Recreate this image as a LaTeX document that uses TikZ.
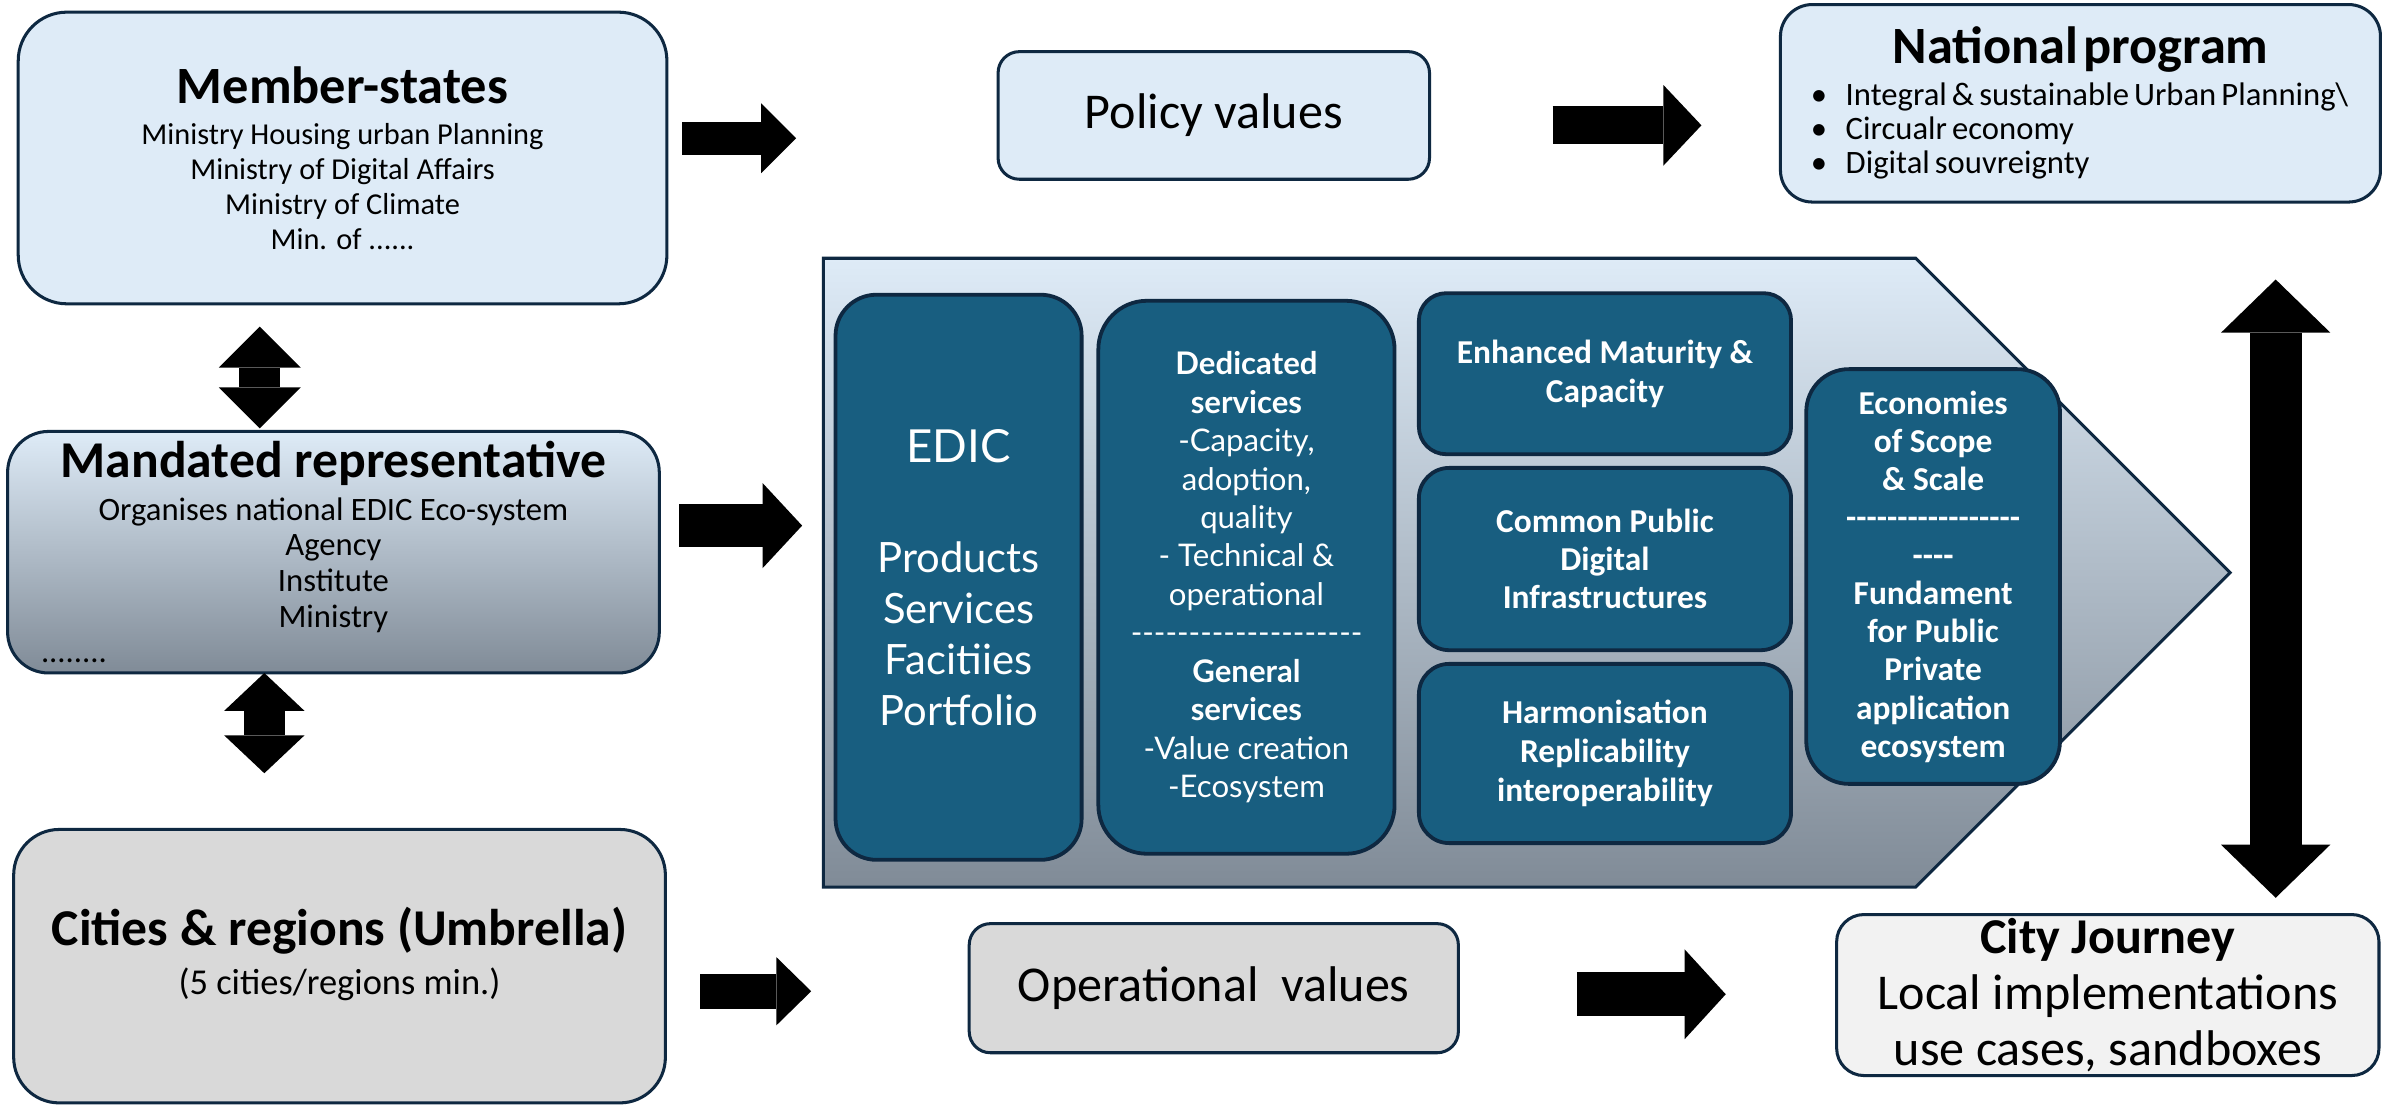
\documentclass[tikz,border=0pt]{standalone}
\usepackage{fontspec}
\newfontfamily\narrowf{Carlito}
\newfontfamily\latof{Lato}
\usetikzlibrary{arrows.meta}
\definecolor{paleblue}{HTML}{DEEBF7}
\definecolor{edge}{HTML}{0E2841}
\definecolor{edicblue}{HTML}{185E80}
\definecolor{palegray}{HTML}{D9D9D9}
\definecolor{offwhite}{HTML}{F2F2F2}
\definecolor{slate}{HTML}{808B97}
\newcommand{\fsz}[2]{\fontsize{#1}{#2}\selectfont}

\begin{document}
\begin{tikzpicture}[x=1pt,y=-1pt,font=\narrowf,
  roundbox/.style={draw=edge,line width=2pt,rounded corners=#1,inner sep=0pt,align=center},
  inbox/.style={roundbox=#1,line width=2.5pt,fill=edicblue,text=white},
  barrow/.style n args={3}{draw=black,line width=#1,-{Triangle[width=#2,length=#3,line width=0pt]}},
  dbarrow/.style n args={3}{draw=black,line width=#1,{Triangle[width=#2,length=#3,line width=0pt]}-{Triangle[width=#2,length=#3,line width=0pt]}}]
\useasboundingbox (0,0) rectangle (1568,727);
\fill[white] (0,0) rectangle (1568,727);

\node[roundbox=32pt,fill=paleblue,minimum width=427pt,minimum height=192pt,font=\narrowf\fsz{20}{23}] (ms) at (225.5,104)
  {{\fsz{34.5}{36}\bfseries Member-states}\\[4pt] Ministry Housing urban Planning\\ Ministry of Digital Affairs\\ Ministry of Climate\\ Min. of ......};
\node[roundbox=27pt,top color=paleblue,bottom color=slate,minimum width=429pt,minimum height=159pt,font=\narrowf\fsz{21.5}{23.5}] (mr) at (219.5,363.5)
  {{\fsz{34}{36}\bfseries Mandated representative}\\[4.5pt] Organises national EDIC Eco-system\\ Agency\\ Institute\\ Ministry\\ \makebox[385pt][l]{........}};
\node[roundbox=30pt,fill=palegray,minimum width=429pt,minimum height=180pt,font=\narrowf\fsz{24}{27}] (cr) at (223.5,636)
  {{\fsz{34}{36}\bfseries Cities \& regions (Umbrella)}\\[5pt] (5 cities/regions min.)\rule[-20pt]{0pt}{20pt}};

\node[roundbox=14pt,fill=paleblue,minimum width=284pt,minimum height=84pt,font=\narrowf\fsz{33}{36}] (pv) at (799,76) {Policy values};
\node[roundbox=14pt,fill=palegray,minimum width=322pt,minimum height=85pt,font=\narrowf\fsz{33}{36}] (ov) at (799,650.5) {Operational\ \ values};

\node[roundbox=21pt,fill=paleblue,minimum width=395pt,minimum height=130pt,text width=395pt,align=left] (np) at (1369.5,68)
  {{\centering\fsz{34.5}{36}\bfseries National program\par}\vspace{5pt}
   \fsz{21.5}{22.5}\hspace*{20pt}\makebox[23pt][l]{\textbullet}Integral \& sustainable Urban Planning\textbackslash\\
   \hspace*{20pt}\makebox[23pt][l]{\textbullet}Circualr economy\\
   \hspace*{20pt}\makebox[23pt][l]{\textbullet}Digital souvreignty\par};
\node[roundbox=18pt,fill=offwhite,minimum width=357pt,minimum height=106pt,font=\narrowf\fsz{33}{37}] (cj) at (1387.5,655)
  {{\bfseries City Journey}\\ Local implementations\\ use cases, sandboxes};

\shadedraw[top color=paleblue,bottom color=slate,draw=edge,line width=2pt]
  (542,170) -- (1261,170) -- (1468,377) -- (1261,584) -- (542,584) -- cycle;

\node[inbox=27pt,minimum width=162pt,minimum height=372pt,font=\latof\fsz{27.5}{33.5}] (edic) at (631,380)
  {{\fsz{30}{33.5}EDIC}\\[39pt] Products\\ Services\\ Facitiies\\ Portfolio};
\node[inbox=32pt,minimum width=195pt,minimum height=364pt,font=\latof\fsz{20.5}{25.3}] (ded) at (820.5,380)
  {\textbf{Dedicated}\\ \textbf{services}\\ -Capacity,\\ adoption,\\ quality\\ - Technical \&\\ operational\\ --------------------\\ \textbf{General}\\ \textbf{services}\\ -Value creation\\ -Ecosystem};
\node[inbox=18pt,minimum width=245pt,minimum height=106pt,font=\narrowf\fsz{22}{25.5}\bfseries] (enh) at (1056.5,246)
  {Enhanced Maturity \&\\ Capacity};
\node[inbox=20pt,minimum width=245pt,minimum height=120pt,font=\narrowf\fsz{22}{25}\bfseries] (cpd) at (1056.5,368)
  {Common Public\\ Digital\\ Infrastructures};
\node[inbox=20pt,minimum width=245pt,minimum height=118pt,font=\narrowf\fsz{22}{25.5}\bfseries] (hri) at (1056.5,496)
  {Harmonisation\\ Replicability\\ interoperability};
\node[inbox=28pt,minimum width=167pt,minimum height=273pt,font=\narrowf\fsz{22}{25.1}\bfseries] (eco) at (1272.5,379.5)
  {Economies\\ of Scope\\ \& Scale\\ -----------------\\ ----\\ Fundament\\ for Public\\ Private\\ application\\ ecosystem};

\coordinate (ms-pv) at (449,91);
\coordinate (pv-np) at (1022,82.5);
\coordinate (mr-edic) at (447,346);
\coordinate (cr-ov) at (461,652.5);
\coordinate (ov-cj) at (1038,654.5);
\coordinate (ms-mr) at (171,215);
\coordinate (mr-cr) at (174,443);
\coordinate (np-cj) at (1498,184);

\draw[barrow={22pt}{46pt}{23pt}] (ms-pv) -- ++(75,0);
\draw[barrow={25pt}{53pt}{25pt}] (pv-np) -- ++(98,0);
\draw[barrow={28pt}{56pt}{26pt}] (mr-edic) -- ++(81,0);
\draw[barrow={23pt}{45pt}{23pt}] (cr-ov) -- ++(73,0);
\draw[barrow={29pt}{59pt}{27pt}] (ov-cj) -- ++(98,0);
\draw[dbarrow={27pt}{54pt}{27pt}] (ms-mr) -- ++(0,67);
\draw[dbarrow={27pt}{53pt}{25pt}] (mr-cr) -- ++(0,66);
\draw[dbarrow={34pt}{72pt}{35pt}] (np-cj) -- ++(0,407);
\end{tikzpicture}
\end{document}
